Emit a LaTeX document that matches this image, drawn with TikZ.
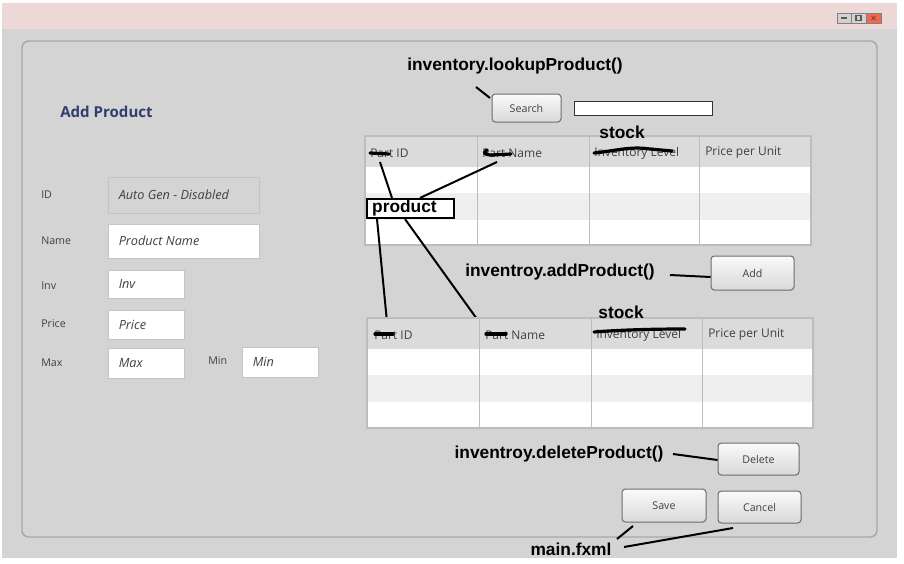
\documentclass[tikz,border=0pt]{standalone}
\usepackage{fontspec}
\setmainfont{Open Sans}
\newfontfamily\lblfont{Liberation Sans}
\usetikzlibrary{fit,calc}
\definecolor{bgc}{HTML}{D4D4D4}
\definecolor{pinkc}{HTML}{EDD8D8}
\definecolor{framec}{HTML}{A8A8A8}
\definecolor{fieldc}{HTML}{C4C4C4}
\definecolor{headc}{HTML}{DBDBDB}
\definecolor{rowc}{HTML}{EFEFEF}
\definecolor{gridc}{HTML}{BDBDBD}
\definecolor{titlec}{HTML}{2E3F6E}
\definecolor{uitext}{HTML}{404040}
\definecolor{closec}{HTML}{EC6A52}
\tikzset{
  tfield/.style={draw=fieldc, fill=white, line width=0.75pt, inner sep=0pt},
  dfield/.style={draw=fieldc, fill=bgc, line width=0.75pt, inner sep=0pt},
  ftext/.style={font=\fontsize{9.5pt}{11pt}\selectfont\itshape, text=uitext, anchor=west, inner sep=0pt},
  uilabel/.style={font=\fontsize{8pt}{10pt}\selectfont, text=uitext, anchor=west, inner sep=0pt},
  btn/.style={draw=gray!85!black, rounded corners=2.5pt, top color=white!96!gray, bottom color=gray!30, line width=0.75pt, inner sep=0pt},
  btntext/.style={font=\fontsize{8pt}{9pt}\selectfont, text=uitext, inner sep=0pt},
  note/.style={font=\lblfont\bfseries\fontsize{13pt}{15pt}\selectfont, inner sep=0pt},
  conn/.style={line width=1.5pt, black},
  scrib/.style={line width=2.4pt, black, line cap=round, line join=round},
  hdr/.style={font=\fontsize{9pt}{11pt}\selectfont, text=uitext, anchor=west, inner sep=0pt},
}
\begin{document}
\begin{tikzpicture}[x=0.75pt,y=-0.75pt]
\useasboundingbox (0,0) rectangle (904,564);
\fill[white] (0,0) rectangle (904,564);
% window
\fill[bgc] (2,3) rectangle (897,558);
\fill[pinkc] (2,3) rectangle (897,29);
% window buttons
\node[draw=gray, fill=gray!35, inner sep=0pt, fit={(837,13)(851,23)}] (wmin) {};
\draw[gray!70!black, line width=0.9pt] ($(wmin.center)+(-3,0)$) -- ($(wmin.center)+(3,0)$);
\node[draw=gray, fill=gray!35, inner sep=0pt, fit={(851,13)(866,23)}] (wmax) {};
\draw[gray!70!black, line width=0.8pt] ($(wmax.center)+(-2.5,-2.5)$) rectangle ($(wmax.center)+(2.5,2.5)$);
\node[draw=gray, fill=closec, inner sep=0pt, fit={(866,13)(881,23)}] (wclose) {};
\draw[closec!60!black, line width=0.6pt] ($(wclose.center)+(-2,-2)$) -- ($(wclose.center)+(2,2)$) ($(wclose.center)+(-2,2)$) -- ($(wclose.center)+(2,-2)$);
% inner frame
\draw[framec, line width=1.1pt, rounded corners=5pt] (22,41) rectangle (877,537);

% title
\node[font=\bfseries\fontsize{11.3pt}{13pt}\selectfont, text=titlec, anchor=west, inner sep=0pt] (title) at (60,112) {Add Product};

% left form
\node[uilabel] (lid) at (41,195) {ID};
\node[uilabel] (lname) at (41,241) {Name};
\node[uilabel] (linv) at (41,286) {Inv};
\node[uilabel] (lprice) at (41,324) {Price};
\node[uilabel] (lmax) at (41,363) {Max};
\node[uilabel] (lmin) at (208,361) {Min};

\node[dfield, fit={(108,177)(259,213)}] (fid) {};
\node[ftext] at ($(fid.west)+(11,0)$) {Auto Gen - Disabled};
\node[tfield, fit={(108,224)(259,258)}] (fname) {};
\node[ftext] at ($(fname.west)+(11,0)$) {Product Name};
\node[tfield, fit={(108,270)(184,298)}] (finv) {};
\node[ftext] at ($(finv.west)+(11,0)$) {Inv};
\node[tfield, fit={(108,310)(184,339)}] (fprice) {};
\node[ftext] at ($(fprice.west)+(11,0)$) {Price};
\node[tfield, fit={(108,348)(184,378)}] (fmax) {};
\node[ftext] at ($(fmax.west)+(11,0)$) {Max};
\node[tfield, fit={(242,347)(318,377)}] (fmin) {};
\node[ftext] at ($(fmin.west)+(11,0)$) {Min};

% search
\node[btn, fit={(492,94)(561,122)}, label={[btntext]center:Search}] (search) {};
\node[draw=black!80, fill=white, line width=0.75pt, inner sep=0pt, fit={(574,101)(712,115)}] (sfield) {};
\node[note] (lookup) at (515,66) {inventory.lookupProduct()};
\coordinate (lk1) at (476,87);
\coordinate (lk2) at (490,98);
\draw[conn] (lk1) -- (lk2);

% top table
\node[draw=gridc, fill=white, line width=0.9pt, inner sep=0pt, fit={(365,136)(811,245)}] (t1) {};
\fill[headc] (365.5,136.5) rectangle (810.5,167);
\fill[rowc] (365.5,193) rectangle (810.5,220);
\draw[gridc, line width=0.9pt] (365,136) rectangle (811,245);
\draw[gridc, line width=0.75pt] (477,136) -- (477,245) (589,136) -- (589,245) (699,136) -- (699,245);
\node[hdr] (t1c1) at (370,153) {Part ID};
\node[hdr] (t1c2) at (482,153) {Part Name};
\node[hdr] (t1c3) at (594,153) {Inventory Level};
\node[hdr] (t1c4) at (705,153) {Price per Unit};
% scribbles top
\draw[scrib] (370,153) -- (389,154);
\draw[scrib] (487,150) .. controls (482,153) and (485,155) .. (492,155) -- (511,154);
\draw[scrib] (594,153) .. controls (615,151) and (630,146) .. (650,149) -- (672,151);
\node[note] (stock1) at (622,132) {stock};

% product box
\node[draw=black, fill=white, line width=1.6pt, inner sep=0pt, fit={(367,199)(454,218)}] (prod) {};
\node[note, anchor=west] at ($(prod.west)+(6,0)$) {product};
\coordinate (p1) at (380,162);
\coordinate (p2) at (497,162);
\coordinate (p3) at (387,322);
\coordinate (p4) at (482,326);
\draw[conn] (p1) -- (prod.north west -| 392,0);
\draw[conn] (p2) -- (prod.north west -| 420,0);
\draw[conn] (prod.south west -| 377,0) -- (p3);
\draw[conn] (prod.south west -| 405,0) -- (p4);

% add
\node[btn, fit={(711,256)(794,290)}, label={[btntext]center:Add}] (add) {};
\node[note] (addl) at (560,272) {inventroy.addProduct()};
\coordinate (a1) at (670,275);
\draw[conn] (a1) -- (add.west |- 0,277);

% bottom table
\node[draw=gridc, fill=white, line width=0.9pt, inner sep=0pt, fit={(367,318)(813,428)}] (t2) {};
\fill[headc] (367.5,318.5) rectangle (812.5,349);
\fill[rowc] (367.5,375) rectangle (812.5,402);
\draw[gridc, line width=0.9pt] (367,318) rectangle (813,428);
\draw[gridc, line width=0.75pt] (479,318) -- (479,428) (591,318) -- (591,428) (702,318) -- (702,428);
\node[hdr] (t2c1) at (374,335) {Part ID};
\node[hdr] (t2c2) at (485,335) {Part Name};
\node[hdr] (t2c3) at (596,335) {Inventory Level};
\node[hdr] (t2c4) at (708,335) {Price per Unit};
\draw[scrib] (375,334) -- (393,334);
\draw[scrib] (486,334) -- (506,334);
\draw[scrib] (594,332) .. controls (620,330) and (650,329) .. (685,329);
\node[note] (stock2) at (621,312) {stock};

% delete
\node[btn, fit={(718,443)(799,475)}, label={[btntext]center:Delete}] (del) {};
\node[note] (dell) at (559,454) {inventroy.deleteProduct()};
\coordinate (d1) at (673,454);
\draw[conn] (d1) -- (del.west |- 0,460);

% save / cancel
\node[btn, fit={(622,489)(706,522)}, label={[btntext]center:Save}] (save) {};
\node[btn, fit={(718,491)(801,523)}, label={[btntext]center:Cancel}] (cancel) {};
\node[note] (mainf) at (571,549) {main.fxml};
\coordinate (m1) at (617,539);
\coordinate (m2) at (633,526);
\coordinate (m3) at (624,547);
\coordinate (m4) at (733,528);
\draw[conn] (m1) -- (m2);
\draw[conn] (m3) -- (m4);
\end{tikzpicture}
\end{document}
